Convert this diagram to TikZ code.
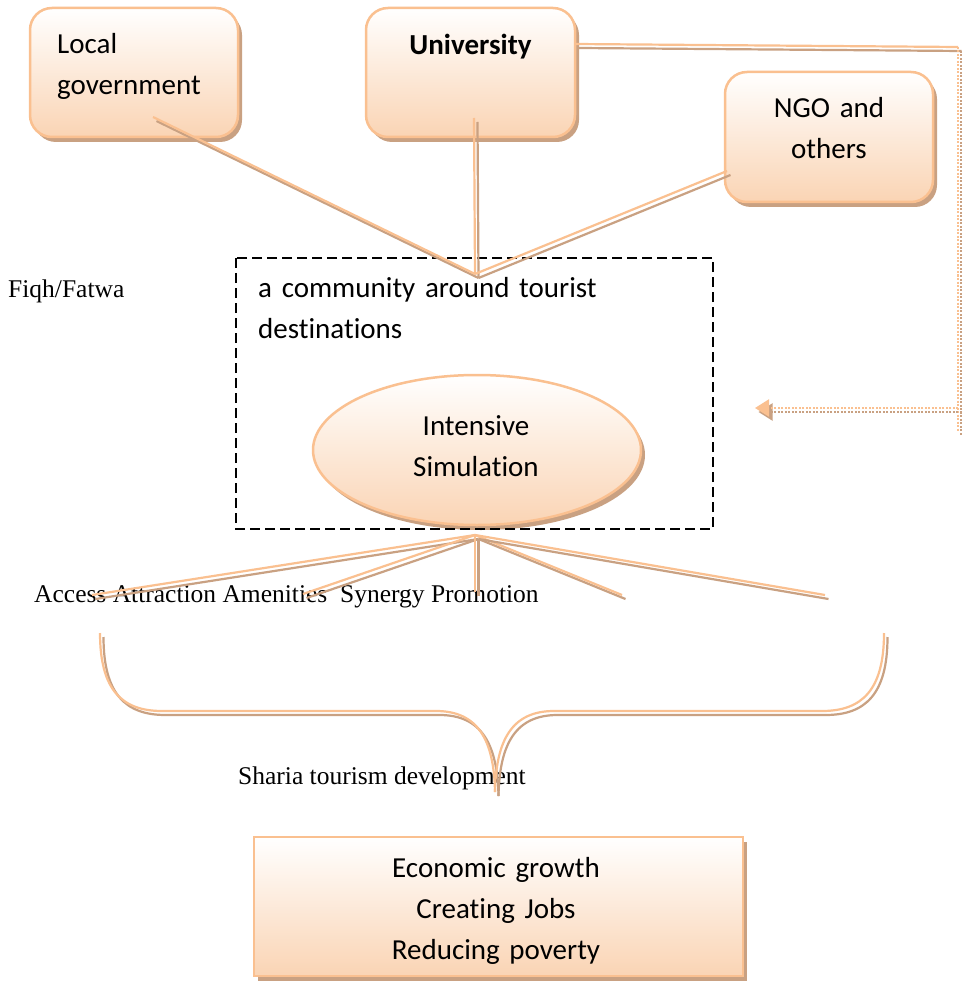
\documentclass[tikz,border=0pt]{standalone}
\usepackage{fontspec}
\setmainfont{Liberation Serif}
\newfontfamily\calib[Ligatures=NoCommon]{Carlito}
\usetikzlibrary{shadows,arrows.meta,shapes.geometric}
\definecolor{peachline}{HTML}{FAC090}
\definecolor{peachfill}{HTML}{FAD4B4}
\definecolor{tanshadow}{HTML}{C9A182}
\newcommand\dcon[2]{\draw[sline] (#1) -- (#2); \draw[oline] (#1) -- (#2);}
\begin{document}
\begin{tikzpicture}[x=1pt,y=-1pt,
  box/.style={draw=peachline, line width=2.5pt, top color=white, bottom color=peachfill,
    general shadow={fill=tanshadow, shadow xshift=4pt, shadow yshift=-5pt}, inner sep=0pt},
  cal/.style={font=\calib\fontsize{29}{41}\selectfont, inner sep=0pt},
  ser/.style={font=\fontsize{25.5}{30}\selectfont, inner sep=0pt},
  oline/.style={draw=peachline, line width=2.2pt},
  sline/.style={draw=tanshadow, line width=2.2pt, transform canvas={xshift=3.5pt,yshift=-4pt}},
  dotl/.style={dash pattern=on 2pt off 1.5pt}
]
\fill[white] (0,0) rectangle (961,981);
\useasboundingbox (0,0) rectangle (961,981);

% boxes
\node[box, rounded corners=22pt, minimum width=208pt, minimum height=129pt] (lg) at (134,72.5) {};
\node[box, rounded corners=22pt, minimum width=209pt, minimum height=129pt] (uni) at (470.5,72.5) {};
\node[box, rounded corners=22pt, minimum width=208pt, minimum height=130pt] (ngo) at (829,137) {};
\node[box, ellipse, minimum width=328pt, minimum height=150pt] (sim) at (477,450) {};
\node[box, rectangle, minimum width=489pt, minimum height=139pt] (out) at (498.5,906.5) {};

% dashed region
\draw[black, line width=2.6pt, dash pattern=on 10pt off 5pt] (236,258) rectangle (713,529);
\node[cal, anchor=base west, text width=400pt, align=left] (comm) at (258,297) {a community around tourist\\destinations};

% texts
\node[cal, anchor=base west, text width=180pt, align=left] (lgt) at (57,54) {Local\\government};
\node[cal, anchor=base, font=\calib\bfseries\fontsize{29}{41}\selectfont] (unit) at (470.5,55) {University};
\node[cal, anchor=base, text width=200pt, align=center] (ngot) at (829,118) {NGO and\\others};
\node[cal, anchor=base, text width=300pt, align=center] (simt) at (476,435) {Intensive\\Simulation};
\node[cal, anchor=base, text width=460pt, align=center] (outt) at (496,877) {Economic growth\\Creating Jobs\\Reducing poverty};
\node[ser, anchor=base west] (fiqh) at (8,298) {Fiqh/Fatwa};
\node[ser, anchor=base west] (five) at (34,602) {Access Attraction Amenities\ \ Synergy Promotion};
\node[ser, anchor=base west] (sharia) at (238,784) {Sharia tourism development};

% convergence connectors
\coordinate (top) at (475,274);
\coordinate (lgc) at (153,117);
\coordinate (unic) at (474,118);
\coordinate (ngoc) at (727,171);
\dcon{lgc}{top}
\dcon{unic}{top}
\dcon{ngoc}{top}

% fan below
\coordinate (bot) at (475,535);
\coordinate (f1) at (92,595);
\coordinate (f2) at (303,594);
\coordinate (f3) at (475,592);
\coordinate (f4) at (622,595);
\coordinate (f5) at (825,595);
\dcon{bot}{f1}
\dcon{bot}{f2}
\dcon{bot}{f3}
\dcon{bot}{f4}
\dcon{bot}{f5}

% university feedback loop
\coordinate (ue) at (575,44);
\coordinate (tr) at (958,47);
\coordinate (br) at (958,432);
\coordinate (ar) at (958,408);
\coordinate (atip) at (755,408);
\dcon{ue}{tr}
\draw[sline, dotl] (tr) -- (br);
\draw[oline, dotl] (tr) -- (br);
\draw[sline, dotl, -{Triangle[length=14pt,width=17pt]}] (ar) -- (atip);
\draw[oline, dotl, -{Triangle[length=14pt,width=17pt]}] (ar) -- (atip);

% brace
\coordinate (bl) at (100,633);
\coordinate (bp) at (495,792);
\coordinate (brr) at (884,633);
\foreach \st in {sline,oline}{
  \draw[\st] (bl) .. controls (100,690) and (122,711) .. (162,711) -- (436,711)
     .. controls (478,711) and (494,740) .. (bp);
  \draw[\st] (bp) .. controls (496,740) and (512,711) .. (554,711) -- (822,711)
     .. controls (862,711) and (884,690) .. (brr);
}
\end{tikzpicture}
\end{document}
